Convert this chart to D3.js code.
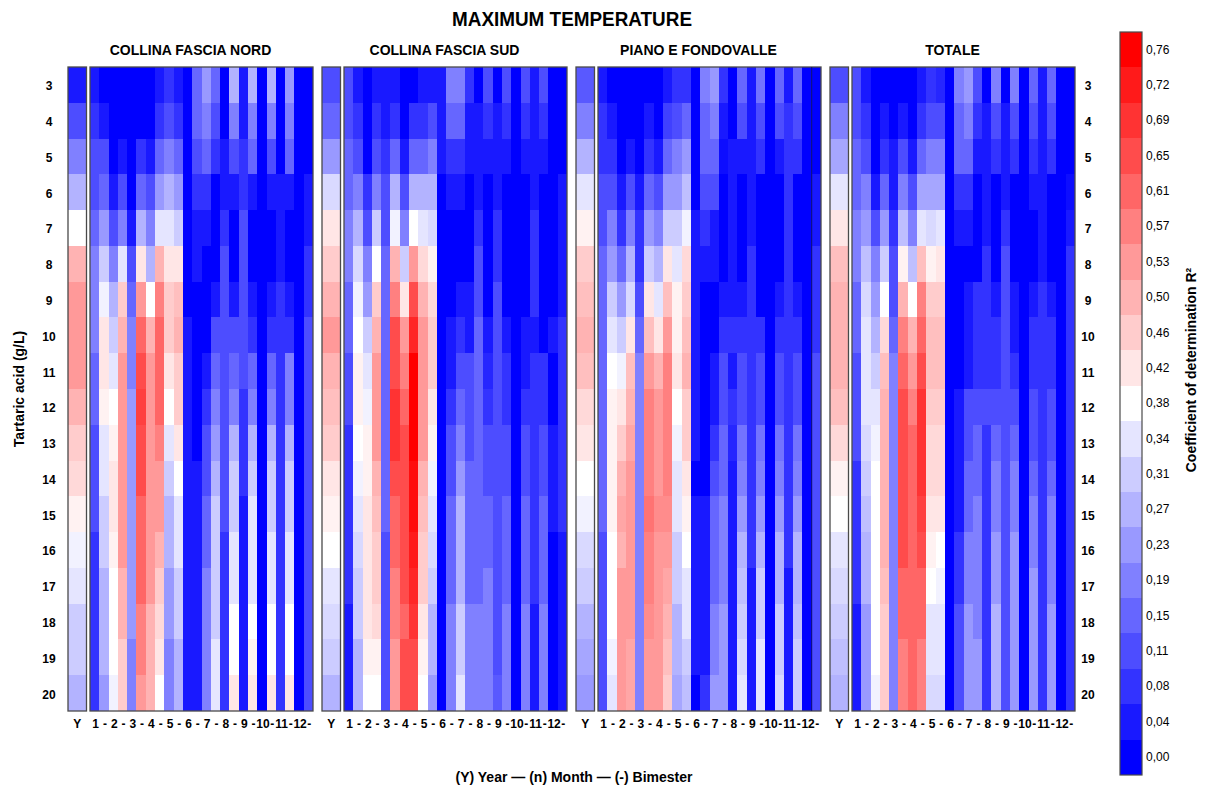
<!DOCTYPE html>
<html>
<head>
<meta charset="utf-8">
<script src="https://cdn.jsdelivr.net/npm/d3@7"></script>
<style>
  html, body { margin: 0; padding: 0; background: #fff; }
  text { font-family: "Liberation Sans", Arial, sans-serif; fill: #000; }
  .bold text, text.bold { font-weight: bold; }
</style>
</head>
<body>
<div id="chart"></div>
<script>
// tick labels
const acidLabels = ["3","4","5","6","7","8","9","10","11","12","13","14","15","16","17","18","19","20"];
const monthLabels = ["1","-","2","-","3","-","4","-","5","-","6","-","7","-","8","-","9","-","10","-","11","-","12","-"];
const legendLabels = ["0,00","0,04","0,08","0,11","0,15","0,19","0,23","0,27","0,31","0,34","0,38","0,42","0,46","0,50","0,53","0,57","0,61","0,65","0,69","0,72","0,76"];
const regionNames = ["COLLINA FASCIA NORD", "COLLINA FASCIA SUD", "PIANO E FONDOVALLE", "TOTALE"];

// all values below are R2 in legend steps (1 step = 0.038)
const step = 0.038;

const nordYear = [1,3,5,7,10,13,14,14,14,13,12,11.5,10.5,9.5,9,8,8,7];
const nordMonths = [
  [1,0,0,0,0,0,0,1,2,1,0,4,6,4,0,7,1,7,0,7,0,6,0,0],
  [2,1,0,0,0,0,0,2,3,2,0,4,5,3,0,5,1,5,0,5,0,5,0,0],
  [3,3,0,1,0,2,1,4,5,4,0,3,4,2,1,3,2,4,0,3,0,4,0,0],
  [3,4,1,3,0,4,3,6,7,6,0,2,2,0,1,1,2,1,0,1,1,1,0,1],
  [4,6,3,5,1,7,5,9,9,8,0,1,1,0,2,0,3,0,0,0,1,0,0,1],
  [5,8,5,9,3,11,7,13,11,11,0,1,0,0,3,0,3,0,0,0,1,0,0,2],
  [5,9.5,7,12,4,14,10,15,12,12.5,0,0,0,1,3,1,3,1,0,1,2,1,0,2],
  [5,11,8,13,5,16,13,16,12,13,1,0,0,3,3,3,3,2,0,2,2,2,0,3],
  [4,11,9,14,5,17,14,16,11,12,1,0,1,4,3,4,3,4,0,4,2,5,0,3],
  [4,10.5,10,14,6,17.5,14,16,10,12,1,0,2,5,3,5,2,5,0,5,2,5,0,3],
  [3,9,10.5,14,6,17,14,15,9,11,1,0,3,6,3,7,2,7,0,7,2,7,0,3],
  [3,9,11,14,6,17,14,14,8,10,1,1,3,7,3,8,2,8,0,8,2,8,0,3],
  [3,8,11,14,6,16,14,14,7,9,1,1,4,8,3,8,1,9,0,8,2,8,0,3],
  [2,8,10.5,14,6,16,14,13,7,9,1,1,4,8,2,9,1,9,0,9,2,9,0,3],
  [2,7,10,13,6,16,14,12,6,8,1,1,5,8,2,9,1,9,0,9,2,9,0,3],
  [2,7,10,13,6,15,13,11.5,6,8,1,1,5,8,2,10,1,10,0,10,2,10,0,3],
  [2,7,10,12,5,15,13,11,5,7,1,1,5,9,2,10,1,10.5,0,10,2,10,0,3],
  [2,6,9.5,12,5,14,13,10,5,7,1,1,5,9,2,11,1,11,0,11,2,11,0,3]
];

const sudYear = [3,4,6,8.5,11,12,13,14,13,12.5,12,11,10.5,10,9,8.5,8,7];
const sudMonths = [
  [3,1,0,1,1,1,0,0,1,1,1,5,5,2,0,3,0,3,0,3,1,3,0,0],
  [3,2,0,2,1,2,0,2,2,3,1,4,4,1,1,2,1,2,0,2,1,2,0,0],
  [4,3,0,3,2,4,1,4,4,5,1,2,2,1,1,1,1,1,0,1,1,1,0,0],
  [4,5,2,5,3,7,3,7,7,7,0,1,1,0,1,0,1,0,0,0,1,0,0,1],
  [5,7,3,8,3,9.5,5,10,9,8.5,0,0,0,0,2,0,2,0,0,0,2,0,0,1],
  [5,8.5,5,10,4,13,8,14,11.5,10.5,0,0,0,0,3,0,2,0,0,0,2,0,0,1],
  [4,9.5,6,12,4,15,11,17,13,11.5,0,0,1,1,3,0,3,0,0,0,2,0,0,1],
  [4,10,8,13,4,17,14,18.5,14,12,0,1,2,1,4,1,3,1,0,1,1,0,1,2],
  [3,10.5,9,14,4,17,15,20,14,12,0,1,3,3,4,1.5,3,2,0,1,2,2,0,2],
  [3,10.5,9.5,14,4,18,16,20,14,11,0,2,4,3,4,2,3,2,0,2,2,2,0,2],
  [2,10,10.5,14,4,18,17,20,14,10.5,0,3,5,3,4,3,3,3,0,3,2,3,1,2],
  [2,9.5,10.5,13,4,17,17,19.5,13,9.5,0,3,6,4,4,3,3,3,0,3,2,3,1,2],
  [2,9,11,12.5,4,16,17,19.5,12.5,9,0,4,7,4,4,4,3,4,0,4,2,4,1,2],
  [2,8.5,11,12,3,16,17,19,12,8.5,0,4,7,4,4,4,3,4,0,4,2,4,0,1],
  [2,8,11,12,3,15,17,18.5,12,8,0,4,7,4,4,5,3,4,0,4,2,4,0,1],
  [1,8,11,11.5,3,15,16,18,11,7,0,5,8,5,5,5,3,5,0,5,1,5,0,1],
  [1,7,10.5,10.5,3,14,17,17,10.5,7,0,5,8,5,5,5,3,5,0,5,1,5,0,1],
  [1,7,10,10,3,14,17,17,10,6,0,5,9,5,5,5,3.5,5,0,5,1,5,0,1]
];

const pianoYear = [3.5,5,7,9,10.5,12,12.5,13,12.5,11.5,11,10,9.5,8.5,8,7,6.5,6];
const pianoMonths = [
  [1,0,0,0,0,0,0,1,2,2,0,5,6,2,0,4,1,4.5,0,4,1,4,0,0],
  [2,1,0,0,0,1,0,2.5,3,4,0,4,5,1,0,3,1,3,0,3,2,3,0,0],
  [2,2,0,1,0,2,1,4,5,6,0,4,4,0.5,1,1,1,2,0,1,2,2,0,0],
  [3,3,1,3,1,4,3,6,6,7.5,0,3,3,0,1,0,1,0,0,0,2,0,0,1],
  [3,5,2,5,2,6,5,8,8,9.5,1,2,1,0,1,0,1,0,0,0,2,0,0,1],
  [4,6,4,7,2,8,7,11,9,11.5,1,1,1,0,1,0,2,0,0,0,2,0,0,2],
  [4,8,6,8.5,3,11,9,12.5,10.5,12,1,0,0,1,1,1,2,0,0,1,2,1,0,2],
  [4,9,8,11,4,12.5,11,14,10.5,12.5,1,0,0,2,2,2,2,2,0,2,2,2,0,2],
  [4,10,9.5,12.5,5,14,13,15,11,13,1,0,1,3,1,3,2,3,0,3,2,3,0,3],
  [4,10.5,11,13,5,15,14,15,10,12,1,0,1,3,2,3,2,3,0,3,2,3,0,3],
  [4,10.5,12,13.5,5,15,14,15,9.5,12,1,0,2,4,1.5,4.5,2,4.5,0,4.5,2,4.5,0,3],
  [4,10.5,13,14,5,15,14,15,9,11,0,0,3,4,1,5,2,5,0,5,2,5,0,3],
  [4,10.5,13.5,14,5,15.5,14.5,14.5,9,10.5,1,1,4,5,1,6,2,6,0,6,2,6,0,3],
  [3,10,13,14,5,15,14,14,8,10,1,1,4,5,1,7,2,7,0,7,2,7,0,3],
  [3,10,14,14,5,15,14,13.5,8,9,1,1,4,5,1,7.5,1,8,0,7,1,7,0,3],
  [3,10,14,14,5,14.5,14,13,7,9,1,1,5,6,1,8,1,8,0,8,1,7.5,0,3],
  [3,9.5,14,13.5,5,14,14,12.5,7,8,1,1,5,6,1,8.5,1,9,0,8,1,8,0,3],
  [3,9,14,13.5,5,14,14,12,6.5,7.5,0,2,6,6,1,9,1,9,0,8.5,1,8,0,3]
];

const totaleYear = [3,5,6.5,9,11,12.5,13,13,13,12.5,11.5,10.5,10,9,8.5,8,7.5,7];
const totaleMonths = [
  [3,1,0,0,0,0,0,1,2,1.5,0,5,6,3,0,5,0,5,0,4,1,4,0,0],
  [3,2,0,1,0,1,0,2,3,3,0,4,5,2,1,3,1,3,0,3,1,3,0,0],
  [4,3,0,2,1,3,1,4,5,5,0,4,4,1,1,2,1,2,0,2,1,2,0,0],
  [4,5,1,4,1,5,3,6.5,6.5,6.5,0,2,2,0,1,0,1,0,0,1,1,0,0,0.5],
  [5,6,3,6,2,7.5,5,9,8.5,9,0,1,1,0,1,0,2,0,0,0,1,0,0,1],
  [5,7.5,5,8,3,10.5,7.5,12.5,10.5,11,0,0,0,0,2,0,3,0,0,0,1,0,0,2],
  [4,8.5,6,10,3,13,10,15,12,12,0,0,1,2,2,1,3,1,0,1,2,1,0,2],
  [4,9,7,11.5,4,15,13,16,12.5,12.5,0,0,1,2,2,2,3,1,0,2,2,2,0,2],
  [3,9,8,12.5,5,16,14,17,12.5,12.5,0,0,1,2,2,2,3,2,0,2,2,2,0,2],
  [3,9,9,13,5,17,15,18,12,12,0,1,3,3,3,3,3,3,0,3,2,3,0,2],
  [3,8.5,9.5,13,5,17,16,18,11.5,11.5,0,1,3,4,2,4,3,4,0,3,2,3,0,2],
  [2,8,10,13,5,17,16,18,11.5,11.5,0,1,4,4,2,5,3,5,0,4,2,4,0,2],
  [2,7.5,10,13,5,17,16,17.5,11,11,0,1,4,5,2,5,3,5,0,5,2,5,0,2],
  [2,7,10,13,5,17,16,17,10.5,10,0,2,5,5,2,6,3,6,0,5,2,5,0,2],
  [2,7,10,12.5,5,16,16,16,10,9.5,0,2,5,5,2,6,3,6,0,6,2,5,0,2],
  [1,6,10,12,5,16,16,16,9,9,0,3,6,5,2,7,3,6,0,6,2,6,0,2],
  [1,6,10,12,5,15,16,15,9,9,0,3,6,6,2,7,3,6,0,6,2,6,0,2],
  [1,6,9.5,12,5,15,16,15,8.5,8.5,0,3,6,6,2,7,3,6,0,6,2,6,0,2]
];

const regionYears = [nordYear, sudYear, pianoYear, totaleYear];
const regionMonths = [nordMonths, sudMonths, pianoMonths, totaleMonths];

const svg = d3.select("#chart").append("svg")
  .attr("width", 1211)
  .attr("height", 791);

const color = d3.scaleLinear()
  .domain([0, 10 * step, 20 * step])
  .range(["#0000ff", "#ffffff", "#ff0000"]);

const y = d3.scaleBand().domain(acidLabels).range([67, 711]);

const panelLefts = [68, 322, 576, 830];
const yearWidth = 18.5;
const monthsGap = 22;
const monthsWidth = 223;

regionNames.forEach((name, p) => {
  const left = panelLefts[p];
  const g = svg.append("g");

  const xYear = d3.scaleBand().domain(["Y"]).range([left, left + yearWidth]);
  const xMonth = d3.scaleBand().domain(d3.range(24)).range([left + monthsGap, left + monthsGap + monthsWidth]);

  // Y strip
  g.append("g").selectAll("rect")
    .data(regionYears[p])
    .enter().append("rect")
    .attr("x", xYear("Y"))
    .attr("y", (d, i) => y(acidLabels[i]))
    .attr("width", xYear.bandwidth())
    .attr("height", y.bandwidth())
    .attr("shape-rendering", "crispEdges")
    .attr("fill", d => color(d * step));

  // month / bimester cells
  const cells = regionMonths[p].flatMap((row, r) => row.map((v, c) => ({ r, c, v })));
  g.append("g").selectAll("rect")
    .data(cells)
    .enter().append("rect")
    .attr("x", d => xMonth(d.c))
    .attr("y", d => y(acidLabels[d.r]))
    .attr("width", xMonth.bandwidth())
    .attr("height", y.bandwidth())
    .attr("shape-rendering", "crispEdges")
    .attr("fill", d => color(d.v * step));

  // frames
  [[xYear.range()[0], xYear.range()[1]], [xMonth.range()[0], xMonth.range()[1]]].forEach(r => {
    g.append("rect")
      .attr("x", r[0])
      .attr("y", y.range()[0])
      .attr("width", r[1] - r[0])
      .attr("height", y.range()[1] - y.range()[0])
      .attr("fill", "none")
      .attr("stroke", "#4a4a4a")
      .attr("stroke-width", 1.3);
  });

  // the reference has a stray dark line before the last column of this panel
  if (p === 2) {
    g.append("line")
      .attr("x1", xMonth(23)).attr("x2", xMonth(23))
      .attr("y1", y.range()[0]).attr("y2", y.range()[1])
      .attr("stroke", "#14146e")
      .attr("stroke-width", 1);
  }

  // bottom axes
  const axisYear = g.append("g")
    .attr("class", "bold")
    .attr("transform", "translate(0,711)")
    .call(d3.axisBottom(xYear).tickSize(0).tickPadding(8));
  const axisMonth = g.append("g")
    .attr("class", "bold")
    .attr("transform", "translate(1,711)")
    .call(d3.axisBottom(xMonth).tickSize(0).tickPadding(8).tickFormat(i => monthLabels[i]));
  [axisYear, axisMonth].forEach(a => {
    a.select(".domain").remove();
    a.selectAll("text").style("font-family", "Liberation Sans").style("font-size", "12px");
  });

  g.append("text")
    .attr("class", "bold")
    .attr("x", left + (monthsGap + monthsWidth) / 2)
    .attr("y", 55)
    .attr("text-anchor", "middle")
    .style("font-size", "14px")
    .text(name);
});

// row labels on both sides, centred on their column
[[49, d3.axisLeft], [1088, d3.axisRight]].forEach(([x, axis]) => {
  const a = svg.append("g")
    .attr("class", "bold")
    .attr("transform", `translate(${x},0)`)
    .call(axis(y).tickSize(0).tickPadding(0));
  a.select(".domain").remove();
  a.selectAll("text")
    .attr("x", 0)
    .attr("dy", "0.45em")
    .attr("text-anchor", "middle")
    .style("font-family", "Liberation Sans")
    .style("font-size", "12px");
});

// colour bar
const legendY = d3.scaleBand()
  .domain(d3.range(legendLabels.length))
  .range([775, 32]);

svg.append("g").selectAll("rect")
  .data(legendLabels)
  .enter().append("rect")
  .attr("x", 1120)
  .attr("y", (d, i) => legendY(i))
  .attr("width", 22)
  .attr("height", legendY.bandwidth())
  .attr("shape-rendering", "crispEdges")
  .attr("fill", (d, i) => color(i * step));

svg.append("rect")
  .attr("x", 1120)
  .attr("y", 32)
  .attr("width", 22)
  .attr("height", 743)
  .attr("fill", "none")
  .attr("stroke", "#4a4a4a")
  .attr("stroke-width", 1.2);

const legendAxis = svg.append("g")
  .attr("transform", "translate(1142,0)")
  .call(d3.axisRight(legendY).tickSize(0).tickPadding(4).tickFormat(i => legendLabels[i]));
legendAxis.select(".domain").remove();
legendAxis.selectAll("text").style("font-family", "Liberation Sans").style("font-size", "12px");

// titles
svg.append("text")
  .attr("class", "bold")
  .attr("x", 572)
  .attr("y", 26)
  .attr("text-anchor", "middle")
  .attr("textLength", 240)
  .attr("lengthAdjust", "spacingAndGlyphs")
  .style("font-size", "20px")
  .text("MAXIMUM TEMPERATURE");

svg.append("text")
  .attr("class", "bold")
  .attr("x", 574)
  .attr("y", 782)
  .attr("text-anchor", "middle")
  .style("font-size", "14px")
  .text("(Y) Year — (n) Month — (-) Bimester");

svg.append("text")
  .attr("class", "bold")
  .attr("transform", "translate(24,389) rotate(-90)")
  .attr("text-anchor", "middle")
  .style("font-size", "14px")
  .text("Tartaric acid (g/L)");

svg.append("text")
  .attr("class", "bold")
  .attr("transform", "translate(1196,370) rotate(-90)")
  .attr("text-anchor", "middle")
  .style("font-size", "14px")
  .text("Coefficient of determination R²");
</script>
</body>
</html>
